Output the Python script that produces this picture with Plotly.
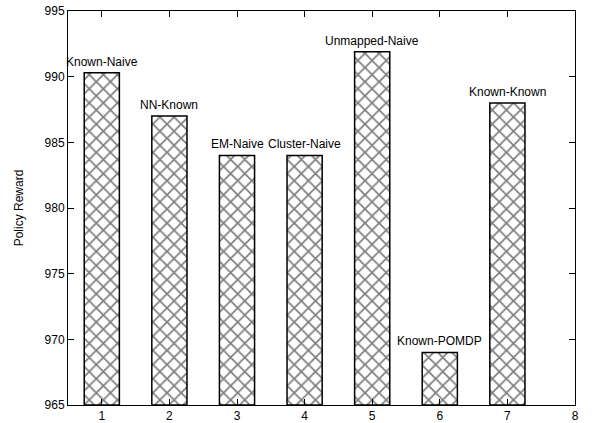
import plotly.graph_objects as go

x_pos = [1, 2, 3, 4, 5, 6, 7]
rewards = [990.3, 987.0, 984.0, 984.0, 991.9, 969.0, 988.0]
labels = ["Known-Naive", "NN-Known", "EM-Naive", "Cluster-Naive",
          "Unmapped-Naive", "Known-POMDP", "Known-Known"]
x_ticks = [1, 2, 3, 4, 5, 6, 7, 8]
y_ticks = [965, 970, 975, 980, 985, 990, 995]

base = 965
fig = go.Figure()
fig.add_trace(go.Bar(
    x=x_pos,
    y=[r - base for r in rewards],
    base=base,
    width=0.52,
    marker=dict(
        color="white",
        line=dict(color="black", width=1.5),
        pattern=dict(shape="x", size=10, solidity=0.32, fgcolor="black", bgcolor="white"),
    ),
    showlegend=False,
))

for xv, yv, t in zip(x_pos, rewards, labels):
    fig.add_annotation(x=xv, y=yv, text=t, showarrow=False, yanchor="bottom",
                       yshift=2, font=dict(size=12, color="black"))

axis_common = dict(
    showgrid=False, zeroline=False, showline=True, linecolor="black", linewidth=1,
    mirror="ticks", ticks="inside", ticklen=6, tickcolor="black",
    tickfont=dict(size=12, color="black"), automargin=False,
)
fig.update_xaxes(range=[0.5, 8], tickvals=x_ticks, **axis_common)
fig.update_yaxes(range=[965, 995], tickvals=y_ticks,
                 title=dict(text="Policy Reward", font=dict(size=12, color="black"), standoff=18),
                 **axis_common)

fig.update_layout(
    width=610, height=423,
    margin=dict(l=68, r=35, t=11, b=18),
    paper_bgcolor="white", plot_bgcolor="white",
    font=dict(family="Liberation Sans, Arial, sans-serif", size=12, color="black"),
)
fig.write_html("out.html")
